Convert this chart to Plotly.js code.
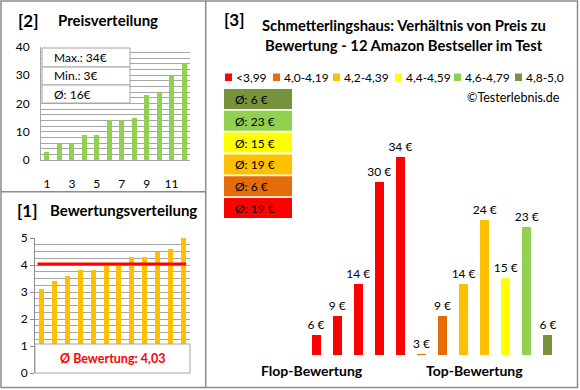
<!DOCTYPE html>
<html><head><meta charset="utf-8">
<script src="https://cdn.plot.ly/plotly-3.0.1.min.js"></script>
<style>html,body{margin:0;padding:0;background:#fff}</style>
</head><body>
<div id="chart" style="width:580px;height:390px"></div>
<script>
// ---- data ----
const productNo = [1,2,3,4,5,6,7,8,9,10,11,12];
const pricesSorted = [3,6,6,9,9,14,14,15,23,24,30,34];
const ratingsSorted = [3.1,3.4,3.6,3.8,3.8,4.0,4.0,4.3,4.3,4.5,4.6,5.0];
const ratioPrices = [6,9,14,30,34,3,9,14,24,15,23,6];
const ratioGroup = [0,0,0,0,0,1,1,2,2,3,4,5];
const groupLabels = ['<3,99','4,0-4,19','4,2-4,39','4,4-4,59','4,6-4,79','4,8-5,0'];
const groupColors = ['#FF0000','#E46C0A','#FFC000','#FFFF00','#92D050','#77933C'];
const xTicks2 = [1,3,5,7,9,11];

// ---- helpers ----
const W = 580, H = 390;
const fx = p => p / W;
const fy = p => 1 - p / H;
const FONT = 'Lato, "Open Sans", sans-serif';
const GRID = '#a6a6a6';
const BORDER = '#8c8c8c';

const maxP = Math.max(...pricesSorted);
const minP = Math.min(...pricesSorted);
const avgP = Math.round(pricesSorted.reduce((a,b)=>a+b,0)/pricesSorted.length);
const avgR = ratingsSorted.reduce((a,b)=>a+b,0)/ratingsSorted.length;

const traces = [];
// panel [2]
traces.push({type:'bar', x:productNo, y:pricesSorted, xaxis:'x', yaxis:'y',
  marker:{color:'#92D050'}, width:0.4, hoverinfo:'skip'});
// panel [1]
traces.push({type:'bar', x:productNo, y:ratingsSorted, xaxis:'x2', yaxis:'y2',
  marker:{color:'#FFC000'}, width:0.39, hoverinfo:'skip'});
traces.push({type:'scatter', mode:'lines', xaxis:'x2', yaxis:'y2',
  x:[productNo[0]-0.3, productNo[productNo.length-1]+0.2], y:[avgR, avgR],
  line:{color:'#FF0000', width:3}, hoverinfo:'skip'});
// panel [3]
const x3 = ratioPrices.map((_,i)=>i+1);
traces.push({type:'bar', x:x3, y:ratioPrices, xaxis:'x3', yaxis:'y3',
  marker:{color:ratioGroup.map(g=>groupColors[g])}, width:0.43,
  text:ratioPrices.map(v=>v+' €'), textposition:'outside', constraintext:'none',
  textfont:{family:FONT, size:12, color:'#000'}, cliponaxis:true, hoverinfo:'skip'});

const shapes = [];
const annotations = [];
const rect = (x0,y0,x1,y1,fill,line) => shapes.push({type:'rect', xref:'paper', yref:'paper',
  x0:fx(x0), x1:fx(x1), y0:fy(y1), y1:fy(y0), fillcolor:fill, line:{color:line||fill, width:line?1:0}, layer:'above'});
const txt = (x,y,t,size,opts) => annotations.push(Object.assign({xref:'paper', yref:'paper', x:fx(x), y:fy(y),
  text:t, showarrow:false, xanchor:'left', yanchor:'middle', font:{family:FONT, size:size, color:'#000'}}, opts||{}));

// panel borders
shapes.push({type:'rect', xref:'paper', yref:'paper', x0:fx(1), x1:fx(577.5), y0:fy(387.5), y1:fy(1), line:{color:BORDER, width:1.5}, layer:'above'});
shapes.push({type:'line', xref:'paper', yref:'paper', x0:fx(205.7), x1:fx(205.7), y0:fy(387.5), y1:fy(1), line:{color:BORDER, width:1.5}, layer:'above'});
shapes.push({type:'line', xref:'paper', yref:'paper', x0:fx(1), x1:fx(205.7), y0:fy(191.7), y1:fy(191.7), line:{color:BORDER, width:1.5}, layer:'above'});

// panel [2] box
rect(42,48,130,67,'#fff',GRID);
rect(42,67,130,85,'#fff',GRID);
rect(42,85,130,103,'#fff',GRID);
txt(52,57.5,'Max.: '+maxP+'€',12);
txt(52,76,'Min.: '+minP+'€',12);
txt(52,94,'Ø: '+avgP+'€',12);
txt(16,20,'<b>[2]</b>',17);
txt(56,20,'<b>Preisverteilung</b>',15);

// panel [1]
rect(35,344,190,373,'#fff',GRID);
txt(112,358.5,'<b>Ø Bewertung: '+avgR.toFixed(2).replace('.',',')+'</b>',12.5,{xanchor:'center', font:{family:FONT,size:12.5,color:'#FF0000'}});
txt(15,210,'<b>[1]</b>',17);
txt(48,210,'<b>Bewertungsverteilung</b>',15);

// panel [3]
txt(222,19,'<b>[3]</b>',17);
txt(404,25,'<b>Schmetterlingshaus: Verhältnis von Preis zu</b>',14.8,{xanchor:'center'});
txt(404,45,'<b>Bewertung - 12 Amazon Bestseller im Test</b>',14.8,{xanchor:'center'});
const legX = [225,273,333,395,454,515];
groupLabels.forEach((l,i)=>{
  rect(legX[i],73.5,legX[i]+7,81,groupColors[i]);
  txt(legX[i]+8.5,77.5,l.replace('<','&lt;'),12);
});
txt(562,97,'©Testerlebnis.de',12.5,{xanchor:'right'});
for (let g = groupLabels.length-1, k = 0; g >= 0; g--, k++) {
  const vals = ratioPrices.filter((_,i)=>ratioGroup[i]===g);
  const avg = Math.round(vals.reduce((a,b)=>a+b,0)/vals.length);
  const top = 89 + k*21.8;
  rect(224,top,292,top+20,groupColors[g]);
  txt(233,top+10.5,'Ø: '+avg+' €',12);
}
txt(312,370,'<b>Flop-Bewertung</b>',14,{xanchor:'center'});
txt(474,370,'<b>Top-Bewertung</b>',14,{xanchor:'center'});

const tickFont = {family:FONT, size:12, color:'#000'};
const layout = {
  width:W, height:H, margin:{l:0,r:0,t:0,b:0}, showlegend:false,
  paper_bgcolor:'#fff', plot_bgcolor:'rgba(0,0,0,0)', bargap:0,
  xaxis:{domain:[fx(41),fx(190)], range:[0.52,12.48], anchor:'y', tickvals:xTicks2,
    ticks:'outside', ticklen:13, tickcolor:'rgba(0,0,0,0)', showgrid:false, zeroline:false,
    showline:true, linecolor:GRID, tickfont:tickFont, fixedrange:true},
  yaxis:{domain:[fy(160),fy(47)], range:[0,40], anchor:'x', dtick:10, ticks:'outside', ticklen:8,
    tickcolor:'rgba(0,0,0,0)', showgrid:true, gridcolor:GRID, zeroline:false, showline:true, linecolor:GRID,
    minor:{dtick:2, showgrid:true, gridcolor:GRID}, tickfont:tickFont},
  xaxis2:{domain:[fx(35),fx(190)], range:[0.5,12.5], anchor:'y2', showticklabels:false, showgrid:false,
    zeroline:false, showline:false},
  yaxis2:{domain:[fy(373),fy(238)], range:[0,5], anchor:'x2', dtick:1, ticks:'outside', ticklen:4,
    tickcolor:BORDER, showgrid:true, gridcolor:GRID, zeroline:false, showline:true, linecolor:BORDER,
    minor:{dtick:0.25, showgrid:true, gridcolor:GRID}, tickfont:tickFont},
  xaxis3:{domain:[fx(295),fx(569)], range:[0,13], anchor:'y3', visible:false},
  yaxis3:{domain:[fy(355),fy(120)], range:[2.85, 2.85+235/6.36], anchor:'x3', visible:false},
  shapes:shapes, annotations:annotations
};
Plotly.newPlot('chart', traces, layout, {staticPlot:true, displayModeBar:false});
</script>
</body></html>
